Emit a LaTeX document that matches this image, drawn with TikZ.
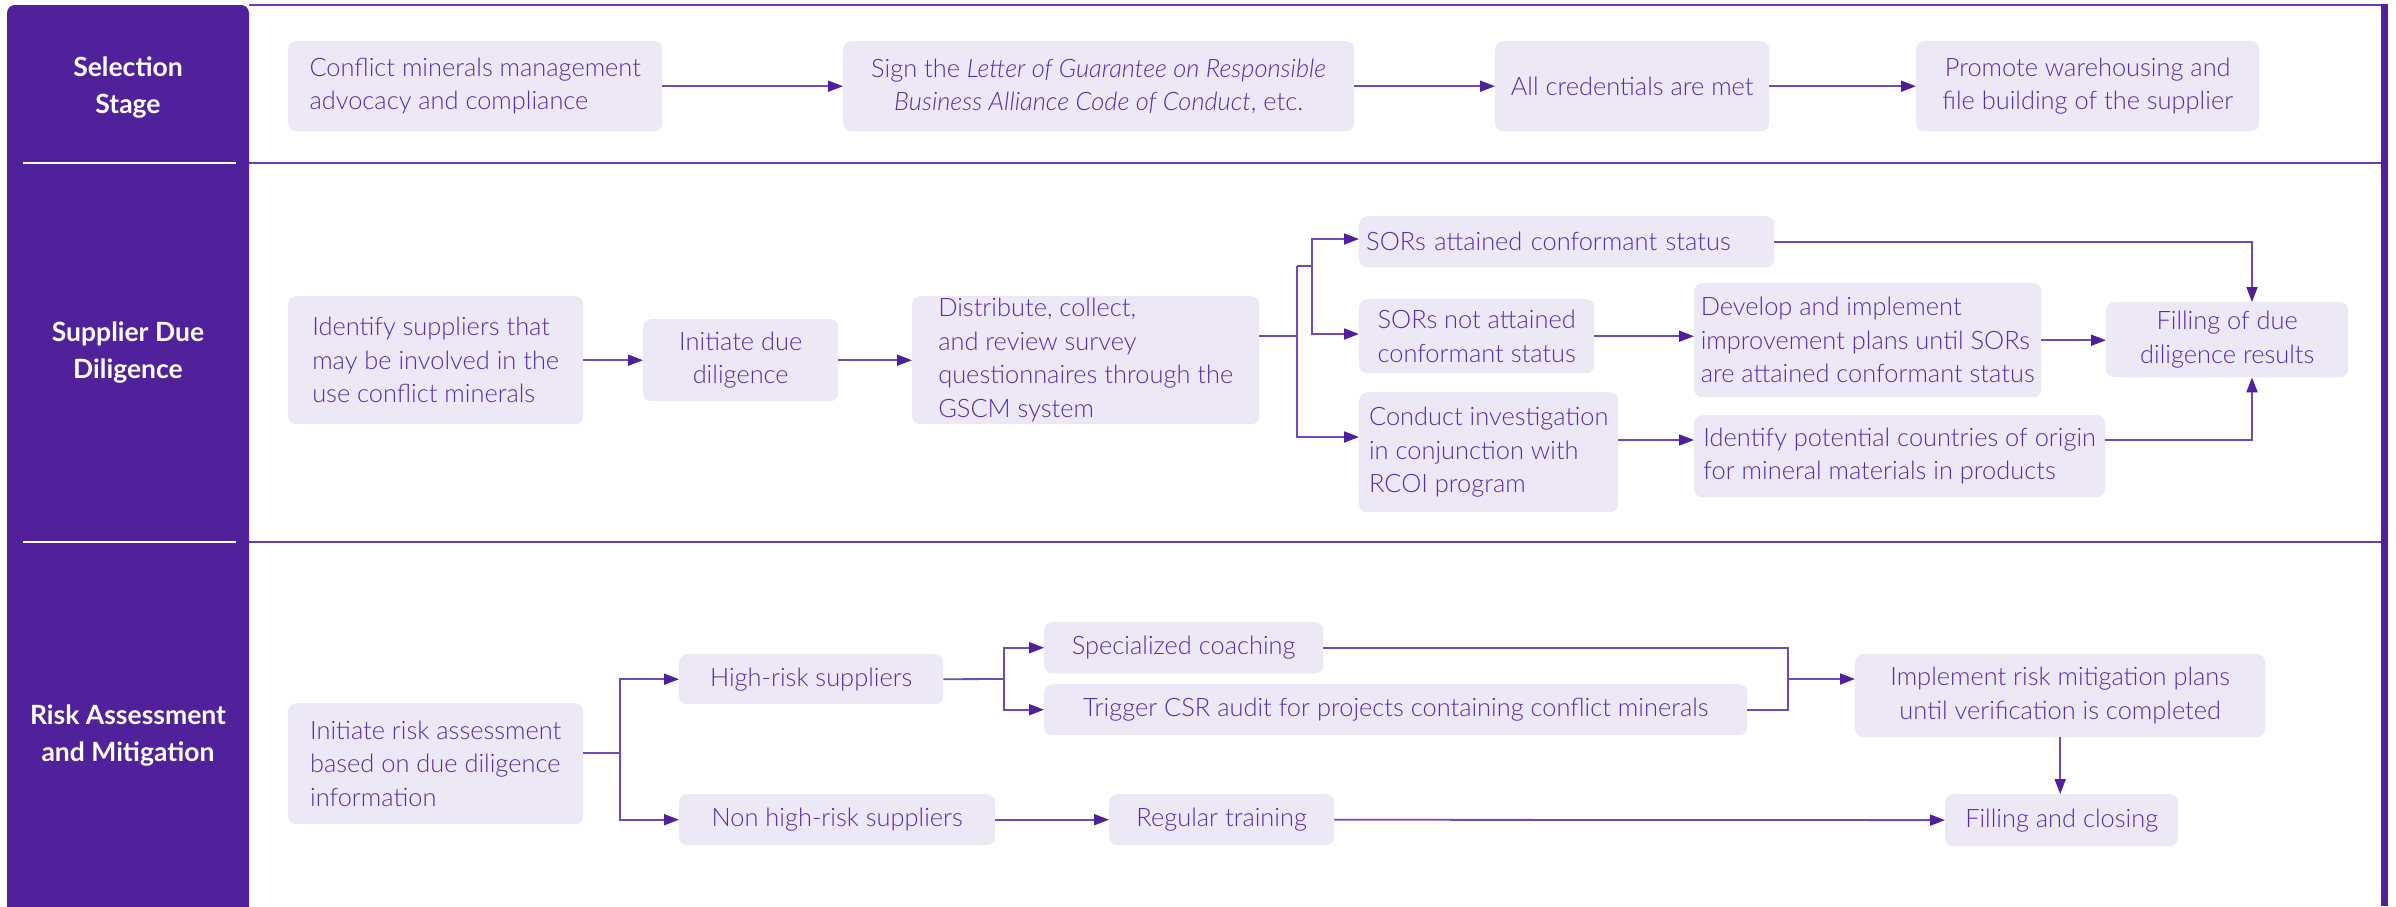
\documentclass[tikz,border=0pt]{standalone}
\usepackage{fontspec}
\setmainfont{Lato Light}[ItalicFont={Lato Light Italic}, BoldFont={Lato Bold}]
\usetikzlibrary{arrows.meta}
\definecolor{panel}{HTML}{50219A}
\definecolor{boxfill}{HTML}{EDE8F6}
\definecolor{txt}{HTML}{5A2BA8}
\definecolor{conn}{HTML}{7048BF}
\definecolor{tipc}{HTML}{4F1F9E}
\definecolor{rule}{HTML}{6A3DB8}
\begin{document}
\begin{tikzpicture}[x=1pt,y=-1pt,
  box/.style={fill=boxfill, rounded corners=8pt, inner sep=0pt, text=txt,
    font=\fontsize{25.4}{33.5}\selectfont, anchor=north west},
  lbox/.style={box, align=left},
  cbox/.style={box, align=center},
  sz/.style 2 args={minimum width=#1pt, minimum height=#2pt},
  title/.style={text=white, font=\fontsize{26.5}{37}\selectfont\bfseries, align=center},
  conn/.style={draw=conn, line width=1.8pt},
  arr/.style={conn, -{Triangle[length=15pt,width=11pt,color=tipc]}},
]
\useasboundingbox (0,0) rectangle (2396,906);
\fill[white] (0,0) rectangle (2396,906);

% frame
\fill[panel, rounded corners=8pt] (7,930) rectangle (249,5);
\draw[white, line width=2pt] (23,163) -- (236,163);
\draw[white, line width=2pt] (23,542) -- (236,542);
\draw[rule, line width=2.5pt] (249,5) -- (2384,5);
\draw[rule, line width=2.5pt] (249,163) -- (2381,163);
\draw[rule, line width=2.5pt] (249,542) -- (2381,542);
\draw[panel, line width=7pt] (2384.5,3.8) -- (2384.5,906);

% titles
\node[title] (T1) at (128,88) {Selection\\Stage};
\node[title] (T2) at (128,353) {Supplier Due\\Diligence};
\node[title] (T3) at (128,736) {Risk Assessment\\and Mitigation};

% Selection stage
\node[lbox, sz={374}{90}] (A1) at (288,41) {Conflict minerals management\\advocacy and compliance};
\node[cbox, sz={511}{90}] (A2) at (843,41) {Sign the \textit{Letter of Guarantee on Responsible}\\\textit{Business Alliance Code of Conduct}, etc.};
\node[cbox, sz={274}{90}] (A3) at (1495,41) {All credentials are met};
\node[cbox, sz={343}{90}] (A4) at (1916,41) {Promote warehousing and\\file building of the supplier};
\draw[arr] (A1) -- (A2);
\draw[arr] (A2) -- (A3);
\draw[arr] (A3) -- (A4);

% Supplier due diligence
\node[lbox, sz={295}{128}] (B1) at (288,296) {Identify suppliers that\\may be involved in the\\use conflict minerals};
\node[cbox, sz={195}{82}] (B2) at (643,319) {Initiate due\\diligence};
\node[lbox, sz={347}{128}] (B3) at (912,296) {Distribute, collect,\\and review survey\\questionnaires through the\\GSCM system};
\node[box, sz={415}{51}, text width=401pt, inner xsep=7pt, align=left] (B4) at (1359,216) {SORs attained conformant status};
\node[lbox, sz={235}{74}] (B5) at (1359,299) {SORs not attained\\conformant status};
\node[lbox, sz={259}{120}] (B6) at (1359,392) {Conduct investigation\\in conjunction with\\RCOI program};
\node[lbox, sz={347}{114}] (B7) at (1694,283) {Develop and implement\\improvement plans until SORs\\are attained conformant status};
\node[cbox, sz={242}{75}] (B8) at (2106,302) {Filling of due\\diligence results};
\node[lbox, sz={411}{82}] (B9) at (1694,415) {Identify potential countries of origin\\for mineral materials in products};

\coordinate (jb1) at (1297,336);
\coordinate (jb2) at (1297,266);
\coordinate (jb3) at (1312,266);
\coordinate (yb4) at (0,239);
\coordinate (yb5) at (0,334);
\coordinate (yb6) at (0,437);
\coordinate (yb69) at (0,440);
\coordinate (kb) at (2252,0);

\draw[arr] (B1) -- (B2);
\draw[arr] (B2) -- (B3);
\draw[conn] (B3.east |- jb1) -- (jb1);
\draw[conn] (jb2) -- (jb3);
\draw[arr] (jb2) |- (B6.west |- yb6);
\draw[arr] (jb3) |- (B4.west |- yb4);
\draw[arr] (jb3) |- (B5.west |- yb5);
\draw[arr] (B5.east) -- (B5.east -| B7.west);
\draw[arr] (B7.east) -- (B7.east -| B8.west);
\draw[arr] (B4.east) -| (kb |- B8.north);
\draw[arr] (B6.east |- yb69) -- (B9.west |- yb69);
\draw[arr] (B9.east |- yb69) -| (kb |- B8.south);

% Risk assessment
\node[lbox, sz={295}{121}] (C1) at (288,703) {Initiate risk assessment\\based on due diligence\\information};
\node[cbox, sz={264}{50}] (C2) at (679,654) {High-risk suppliers};
\node[cbox, sz={316}{51}] (C3) at (679,794) {Non high-risk suppliers};
\node[lbox, sz={279}{51}] (C4) at (1044,622) {Specialized coaching};
\node[lbox, sz={703}{51}] (C5) at (1044,684) {Trigger CSR audit for projects containing conflict minerals};
\node[cbox, sz={410}{83}] (C6) at (1855,654) {Implement risk mitigation plans\\until verification is completed};
\node[cbox, sz={225}{51}] (C7) at (1109,794) {Regular training};
\node[cbox, sz={233}{52}] (C8) at (1945,794) {Filling and closing};

\coordinate (jc1) at (620,753);
\coordinate (jc2) at (1004,679);
\coordinate (jc3) at (1788,679);

\draw[conn] (C1.east |- jc1) -- (jc1);
\draw[arr] (jc1) |- (C2.west);
\draw[arr] (jc1) |- (C3.west);
\draw[conn] (C2.east) -- (jc2);
\draw[arr] (jc2) |- (C4.west);
\draw[arr] (jc2) |- (C5.west);
\draw[conn] (C4.east) -| (jc3);
\draw[conn] (C5.east) -| (jc3);
\draw[arr] (jc3) -- (jc3 -| C6.west);
\draw[arr] (C6.south) -- (C6.south |- C8.north);
\draw[arr] (C3) -- (C7);
\draw[arr] (C7) -- (C8);
\end{tikzpicture}
\end{document}
